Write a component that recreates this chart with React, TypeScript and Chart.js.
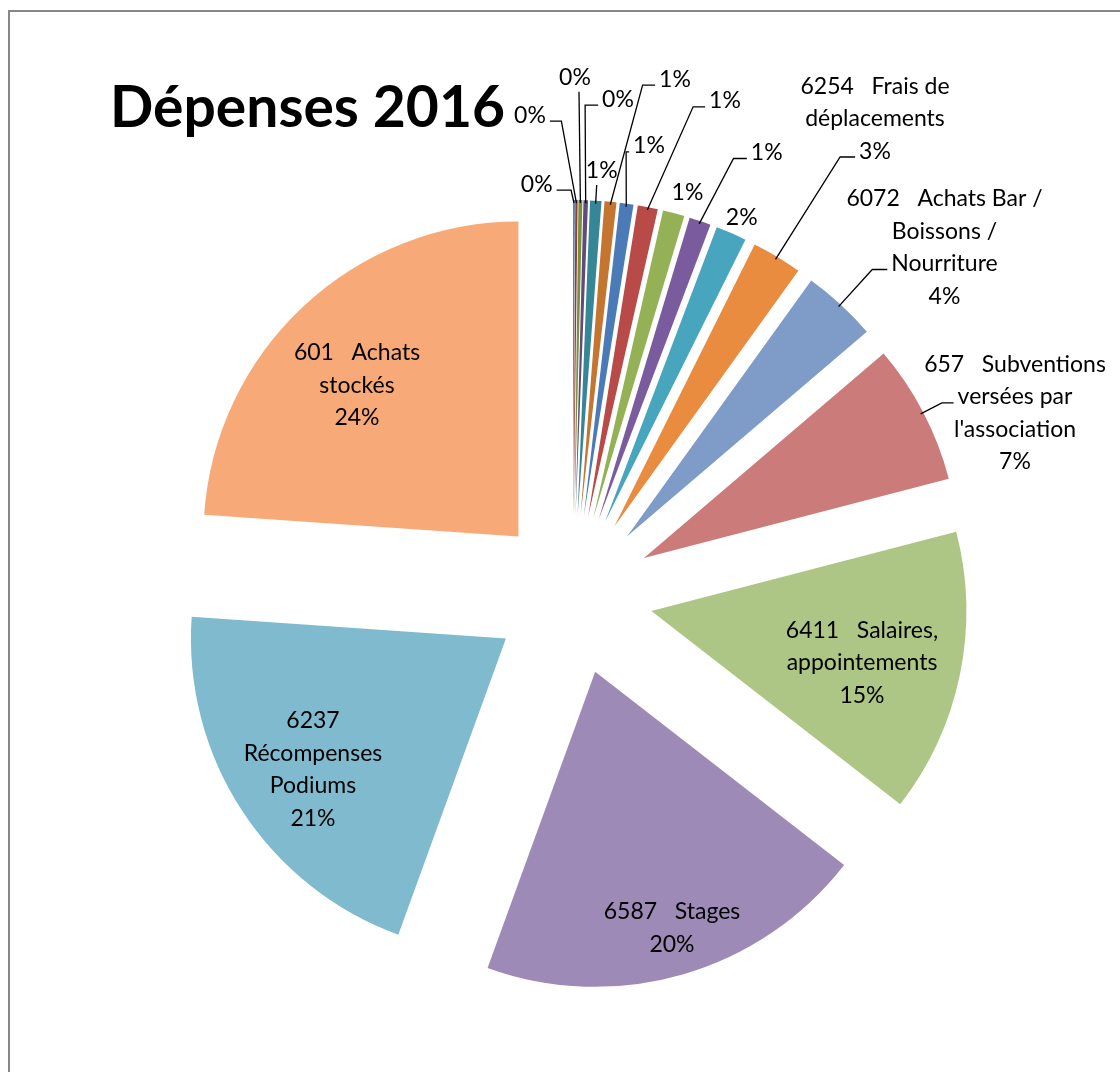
import React, { useEffect, useRef } from "react";
import { Chart, registerables } from "chart.js";

Chart.register(...registerables);

// ---------- data ----------
const TITLE = "Dépenses 2016";

const CATEGORIES: string[] = [
  "", "", "", "", "", "", "", "", "", "", "",
  "6254   Frais de déplacements",
  "6072   Achats Bar / Boissons / Nourriture",
  "657   Subventions versées par l'association",
  "6411   Salaires, appointements",
  "6587   Stages",
  "6237   Récompenses Podiums",
  "601   Achats stockés",
];

// share of total spending (%)
const VALUES: number[] = [
  0.08, 0.12, 0.2, 0.23, 0.58, 0.61, 0.7, 1.03, 1.11, 1.11, 1.58,
  2.58, 3.83, 7.19, 14.55, 20.05, 20.55, 23.9,
];

// ---------- style ----------
const COLORS: string[] = [
  "#3B6596", "#943C3A", "#77903F", "#5F4B7C", "#358696", "#C47530",
  "#4A7BB7", "#B84A48", "#94B255", "#7A5C9E", "#47A5BE", "#E98C40",
  "#7F9CC8", "#CB7B7A", "#AEC685", "#9E8AB6", "#7FBACF", "#F8A978",
];

const RADIUS = 315;
const EXPLODE = 80;
const FONT_FAMILY = "Lato, 'Noto Sans', sans-serif";
const LABEL_SIZE = 23;
const LINE_H = 32.5;
const CAP_HALF = 8;
const GAP = 4;

type Layout = {
  x: number;
  y: number;
  wrap?: number;
  leader?: "L" | "R" | "B";
  h?: number;
  line?: number;
  dx?: number;
};

// label block centres, relative to the pie centre
const LABEL_LAYOUT: Layout[] = [
  { x: -36.3, y: -411.3, leader: "L", h: 14.5 },
  { x: -43, y: -480.3, leader: "L", h: 11.5 },
  { x: 2, y: -518, leader: "B", dx: 4 },
  { x: 45, y: -496.3, leader: "R", h: 13 },
  { x: 28.7, y: -424.7, leader: "B", dx: -5 },
  { x: 102, y: -516.3, leader: "R", h: 12.5 },
  { x: 76, y: -449.7, leader: "R", h: 3 },
  { x: 152, y: -494.7, leader: "R", h: 12 },
  { x: 114.5, y: -403 },
  { x: 193.7, y: -443, leader: "R", h: 13.3 },
  { x: 168.7, y: -378 },
  { x: 302, y: -477, wrap: 165, leader: "R", h: 15, line: 2 },
  { x: 371.5, y: -348.25, wrap: 212, leader: "R", h: 15, line: 2 },
  { x: 442, y: -182.3, wrap: 200, leader: "R", h: 11.7, line: 1 },
  { x: 289, y: 67, wrap: 170 },
  { x: 99, y: 332.5, wrap: 160 },
  { x: -260, y: 173.75, wrap: 170 },
  { x: -216, y: -210.3, wrap: 150 },
];

function wrapText(ctx: CanvasRenderingContext2D, text: string, maxW: number): string[] {
  if (!text) return [];
  const tokens = text.split(/(\s+)/);
  const lines: string[] = [];
  let cur = "";
  for (let i = 0; i < tokens.length; i += 2) {
    const word = tokens[i];
    const sep = i > 0 ? tokens[i - 1] : "";
    if (!cur) {
      cur = word;
      continue;
    }
    const cand = cur + sep + word;
    if (ctx.measureText(cand).width <= maxW) cur = cand;
    else {
      lines.push(cur);
      cur = word;
    }
  }
  if (cur) lines.push(cur);
  return lines;
}

const explodePlugin = {
  id: "explodeSlices",
  afterDatasetUpdate(chart: any, args: any) {
    const meta = chart.getDatasetMeta(args.index);
    meta.data.forEach((arc: any) => {
      const mid = (arc.startAngle + arc.endAngle) / 2;
      arc.x += Math.cos(mid) * EXPLODE;
      arc.y += Math.sin(mid) * EXPLODE;
    });
  },
};

const labelPlugin = {
  id: "excelLabels",
  afterDraw(chart: any) {
    const ctx: CanvasRenderingContext2D = chart.ctx;
    const area = chart.chartArea;
    const cx = (area.left + area.right) / 2;
    const cy = (area.top + area.bottom) / 2;
    const meta = chart.getDatasetMeta(0);
    const total = VALUES.reduce((a, b) => a + b, 0);

    ctx.save();
    // title
    ctx.fillStyle = "#000";
    ctx.font = `bold 57px ${FONT_FAMILY}`;
    ctx.textAlign = "left";
    ctx.textBaseline = "alphabetic";
    ctx.fillText(TITLE, 102, 118.5);

    ctx.font = `${LABEL_SIZE}px ${FONT_FAMILY}`;
    ctx.strokeStyle = "#000";
    ctx.lineWidth = 1.3;
    meta.data.forEach((arc: any, i: number) => {
      const lay = LABEL_LAYOUT[i];
      if (!lay) return;
      const pct = Math.round((VALUES[i] / total) * 100) + "%";
      const lines = [...wrapText(ctx, CATEGORIES[i], lay.wrap ?? 1000), pct];
      const n = lines.length;
      const bx = cx + lay.x;
      const by = cy + lay.y;
      ctx.textAlign = "center";
      const baseOf = (k: number) => by + (k - (n - 1) / 2) * LINE_H + CAP_HALF;
      lines.forEach((ln, k) => ctx.fillText(ln, bx, baseOf(k)));

      if (lay.leader) {
        const mid = (arc.startAngle + arc.endAngle) / 2;
        const rr = arc.outerRadius - 3;
        const px = arc.x + Math.cos(mid) * rr;
        const py = arc.y + Math.sin(mid) * rr;
        const k = lay.line ?? 0;
        const base = baseOf(k);
        const w = ctx.measureText(lines[k]).width;
        let ax: number, ay: number, ex: number, ey: number;
        if (lay.leader === "R") {
          ax = bx - w / 2 - GAP;
          ay = base - 1.5;
          ex = ax - (lay.h ?? 12);
          ey = ay;
        } else if (lay.leader === "L") {
          ax = bx + w / 2 + GAP;
          ay = base - 1.5;
          ex = ax + (lay.h ?? 12);
          ey = ay;
        } else {
          ax = bx + (lay.dx ?? 0);
          ay = base + 6.7;
          ex = ax;
          ey = ay;
        }
        ctx.beginPath();
        ctx.moveTo(px, py);
        ctx.lineTo(ex, ey);
        ctx.lineTo(ax, ay);
        ctx.stroke();
      }
    });
    ctx.restore();
  },
};

export default function App() {
  const ref = useRef<HTMLCanvasElement | null>(null);

  useEffect(() => {
    if (!ref.current) return;
    const chart = new Chart(ref.current, {
      type: "pie",
      data: {
        labels: CATEGORIES,
        datasets: [
          {
            data: VALUES,
            backgroundColor: COLORS,
            borderWidth: 0,
            radius: RADIUS,
            clip: false as any,
          } as any,
        ],
      },
      options: {
        animation: false,
        responsive: false,
        events: [],
        layout: { padding: { left: 26, top: 118, right: 0, bottom: 0 } },
        plugins: {
          legend: { display: false },
          tooltip: { enabled: false },
          title: { display: false },
        },
      },
      plugins: [explodePlugin, labelPlugin],
    });
    return () => chart.destroy();
  }, []);

  return (
    <div style={{ position: "relative", width: 1104, height: 1056, overflow: "hidden" }}>
      <div
        style={{
          position: "fixed",
          left: 8,
          top: 10,
          width: 1300,
          height: 1300,
          border: "2px solid #878787",
          boxSizing: "border-box",
          pointerEvents: "none",
        }}
      />
      <canvas ref={ref} width={1104} height={1056} style={{ position: "absolute", left: 0, top: 0 }} />
    </div>
  );
}
